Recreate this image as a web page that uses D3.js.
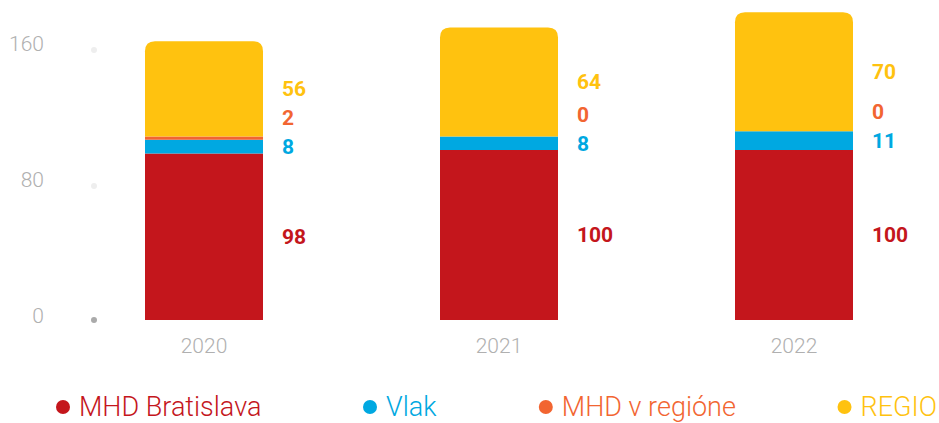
<!DOCTYPE html>
<html>
<head>
<meta charset="utf-8">
<script src="https://cdn.jsdelivr.net/npm/d3@7"></script>
<style>
  body { margin: 0; background: #fff; }
  svg { display: block; font-family: Roboto, "Noto Sans", sans-serif; }
</style>
</head>
<body>
<div id="chart"></div>
<script>
// data
var years = ["2020", "2021", "2022"];
var seriesNames = ["MHD Bratislava", "Vlak", "MHD v regióne", "REGIO"];
var seriesColors = ["#C4161C", "#00A8E1", "#F26531", "#FFC20F"];
var mhdBratislava = [98, 100, 100];
var vlak = [8, 8, 11];
var mhdRegion = [2, 0, 0];
var regio = [56, 64, 70];
var yTicks = [0, 80, 160];

var width = 939, height = 423;
var svg = d3.select("#chart").append("svg")
	.attr("width", width)
	.attr("height", height);

var rows = years.map(function(y, i){
	return {year: y, s0: mhdBratislava[i], s1: vlak[i], s2: mhdRegion[i], s3: regio[i]};
});
var keys = ["s0", "s1", "s2", "s3"];
var stacked = d3.stack().keys(keys)(rows);

var x = d3.scaleBand()
	.domain(years)
	.range([56.5, 941.5])
	.paddingInner(0.6)
	.paddingOuter(0.3);
var y = d3.scaleLinear()
	.domain([0, 160])
	.range([320, 48]);

// y axis: dots + labels
var axis = svg.append("g");
axis.selectAll("circle")
	.data(yTicks)
	.enter().append("circle")
	.attr("cx", 94)
	.attr("cy", function(d){ return d == 0 ? y(d) : y(d) + 2; })
	.attr("r", 3)
	.attr("fill", function(d){ return d == 0 ? "#aaa" : "#eee"; });
axis.selectAll("text")
	.data(yTicks)
	.enter().append("text")
	.attr("x", 44)
	.attr("y", function(d){ return y(d) - 4; })
	.attr("dy", "0.35em")
	.attr("text-anchor", "end")
	.attr("font-size", "21px")
	.attr("font-weight", 300)
	.attr("fill", "#b0b0b0")
	.text(function(d){ return d; });

// bars
var r = 10;
function topRounded(x0, y0, w, h)
{
	var rr = Math.min(r, h);
	return "M" + x0 + "," + (y0 + h) +
		"V" + (y0 + rr) +
		"Q" + x0 + "," + y0 + " " + (x0 + rr) + "," + y0 +
		"H" + (x0 + w - rr) +
		"Q" + (x0 + w) + "," + y0 + " " + (x0 + w) + "," + (y0 + rr) +
		"V" + (y0 + h) + "Z";
}

var order = [0, 1, 2, 3];
stacked.forEach(function(layer, li){
	var g = svg.append("g");
	g.selectAll("path")
		.data(layer)
		.enter().append("path")
		.attr("fill", seriesColors[li])
		.attr("d", function(d){
			var x0 = x(d.data.year), w = x.bandwidth();
			var y0 = y(d[1]), h = y(d[0]) - y(d[1]);
			if (h <= 0) return "";
			if (li == 3) return topRounded(x0, y0, w, h);
			return "M" + x0 + "," + y0 + "h" + w + "v" + h + "h" + (-w) + "Z";
		});
});

// value labels, bottom-up with collision push
years.forEach(function(yr, i){
	var prev = null;
	var labels = [];
	order.forEach(function(li){
		var seg = stacked[li][i];
		var cy = y((seg[0] + seg[1]) / 2);
		if (prev !== null) cy = Math.min(cy, prev - 29);
		prev = cy;
		labels.push({li: li, cy: cy, v: seg[1] - seg[0]});
	});
	svg.append("g").selectAll("text")
		.data(labels)
		.enter().append("text")
		.attr("x", x(yr) + x.bandwidth() + 19)
		.attr("y", function(d){ return d.cy; })
		.attr("dy", "0.35em")
		.attr("font-size", "21px")
		.attr("font-weight", 700)
		.attr("fill", function(d){ return seriesColors[d.li]; })
		.text(function(d){ return d.v; });
});

// x labels
svg.append("g").selectAll("text")
	.data(years)
	.enter().append("text")
	.attr("x", function(d){ return x(d) + x.bandwidth() / 2; })
	.attr("y", 353)
	.attr("text-anchor", "middle")
	.attr("font-size", "21px")
	.attr("font-weight", 300)
	.attr("fill", "#b0b0b0")
	.text(function(d){ return d; });

// legend, spread between left and right edges
var legend = svg.append("g");
var items = legend.selectAll("g")
	.data(seriesNames)
	.enter().append("g");
items.append("circle")
	.attr("cx", 7)
	.attr("cy", 407)
	.attr("r", 7)
	.attr("fill", function(d, i){ return seriesColors[i]; });
items.append("text")
	.attr("x", 23)
	.attr("y", 416)
	.attr("font-size", "27px")
	.attr("font-weight", 300)
	.attr("fill", function(d, i){ return seriesColors[i]; })
	.text(function(d){ return d; });

var widths = [];
items.each(function(){ widths.push(this.getBBox().width); });
var left = 56, right = 937;
var gap = (right - left - d3.sum(widths)) / (widths.length - 1);
var pos = left;
items.attr("transform", function(d, i){
	var t = "translate(" + pos + ",0)";
	pos += widths[i] + gap;
	return t;
});
</script>
</body>
</html>
